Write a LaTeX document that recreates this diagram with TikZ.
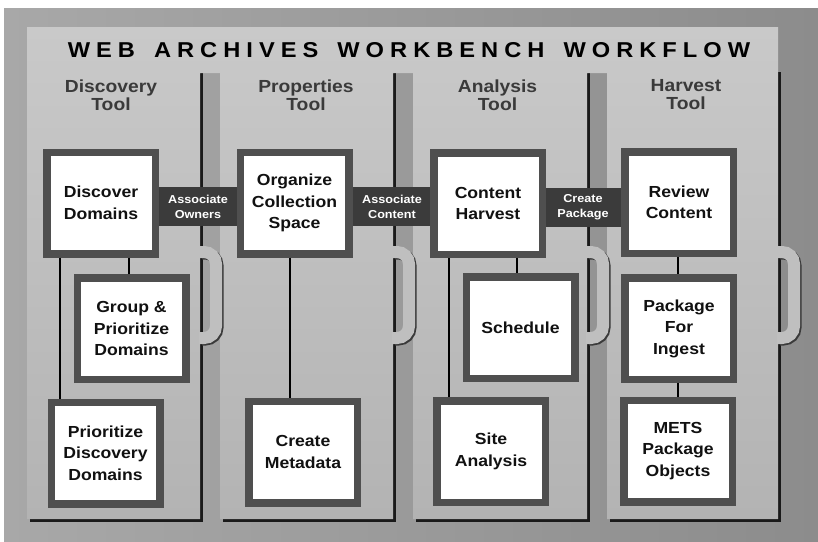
\documentclass[tikz,border=0pt]{standalone}
\usepackage{fontspec}
\setmainfont{Liberation Sans}[FakeStretch=1.1]
\definecolor{bgL}{HTML}{A8A8A8}
\definecolor{bgR}{HTML}{8C8C8C}
\definecolor{panT}{HTML}{C9C9C9}
\definecolor{panB}{HTML}{B3B3B3}
\definecolor{tabC}{HTML}{BFBFBF}
\definecolor{shadC}{HTML}{1A1A1A}
\definecolor{tabS}{HTML}{3A3A3A}
\definecolor{boxB}{HTML}{4F4F4F}
\definecolor{labF}{HTML}{3B3B3B}
\definecolor{headC}{HTML}{3A3A3A}
\definecolor{txtC}{HTML}{111111}
\begin{document}
\begin{tikzpicture}[x=1pt,y=-1pt,
  stepbox/.style={draw=boxB, line width=7.5pt, fill=white, inner sep=0pt,
    minimum width=108.5pt, minimum height=101.5pt, align=center,
    text=txtC, font=\fontsize{16}{21.5}\selectfont\bfseries},
  linkbox/.style={fill=labF, inner sep=0pt, minimum width=78pt,
    minimum height=39pt, align=center, text=white,
    font=\fontsize{11.5}{15}\selectfont\bfseries},
  headtext/.style={align=center, text=headC, inner sep=0pt,
    font=\fontsize{17.5}{18}\selectfont\bfseries},
  conn/.style={draw=black, line width=2.2pt},
  tabband/.style={draw=tabC, line width=12pt, rounded corners=12pt},
  tabshadow/.style={draw=tabS, line width=12pt, rounded corners=12pt}
]
\useasboundingbox (0,0) rectangle (818,541);
\fill[white] (0,0) rectangle (818,541);
\shade[left color=bgL, right color=bgR] (4,8) rectangle (818,541);
% column drop shadows
\fill[shadC] (30,72) rectangle (203,522);
\fill[shadC] (223,72) rectangle (396,522);
\fill[shadC] (416,72) rectangle (590,522);
\fill[shadC] (610,72) rectangle (781,522);
% light panels
\shade[top color=panT, bottom color=panB]
  (27,27) rectangle (778,73)
  (27,70) rectangle (200,519)
  (220,70) rectangle (393,519)
  (413,70) rectangle (587,519)
  (607,70) rectangle (778,519);
% tabs
\foreach \xr in {200,393,587,778}{
  \draw[tabshadow] (\xr+2,253.5) -- (\xr+17.5,253.5) -- (\xr+17.5,339.5) -- (\xr+2,339.5);
  \draw[tabband] (\xr-1,252) -- (\xr+16,252) -- (\xr+16,338) -- (\xr-1,338);
}
% title and headings
\node[inner sep=0pt, text=black, font=\fontsize{21.5}{21.5}\selectfont\bfseries] (title) at (409,50.5)
  {\addfontfeature{LetterSpace=28}WEB\hspace{19pt}ARCHIVES\hspace{19pt}WORKBENCH\hspace{19pt}WORKFLOW};
\node[headtext] (h1) at (111,95) {Discovery\\Tool};
\node[headtext] (h2) at (306,95) {Properties\\Tool};
\node[headtext] (h3) at (497.5,95) {Analysis\\Tool};
\node[headtext] (h4) at (686,95) {Harvest\\Tool};
% connector x positions
\coordinate (xa) at (60,0);
\coordinate (xb) at (129,0);
\coordinate (xc) at (290,0);
\coordinate (xd) at (449,0);
\coordinate (xe) at (517,0);
\coordinate (xf) at (678,0);
% link labels
\node[linkbox] (ao) at (198,206.5) {Associate\\Owners};
\node[linkbox] (ac) at (392,206.5) {Associate\\Content};
\node[linkbox] (cp) at (583,207) {Create\\Package};
% step boxes
\node[stepbox] (dd) at (101,203) {Discover\\Domains};
\node[stepbox] (gp) at (131.5,328.5) {Group \&\\Prioritize\\Domains};
\node[stepbox] (pdd) at (105.5,453) {Prioritize\\Discovery\\Domains};
\node[stepbox] (ocs) at (294.5,203) {Organize\\Collection\\Space};
\node[stepbox] (cm) at (303,452) {Create\\Metadata};
\node[stepbox] (ch) at (488,203.5) {Content\\Harvest};
\node[stepbox] (sch) at (520.5,327.5) {Schedule};
\node[stepbox] (sa) at (491,451.5) {Site\\Analysis};
\node[stepbox] (rc) at (679,202.5) {Review\\Content};
\node[stepbox] (pfi) at (679,328.5) {Package\\For\\Ingest};
\node[stepbox] (mets) at (678,451) {METS\\Package\\Objects};
% connectors
\draw[conn] (dd.south -| xa) -- (pdd.north -| xa);
\draw[conn] (dd.south -| xb) -- (gp.north -| xb);
\draw[conn] (ocs.south -| xc) -- (cm.north -| xc);
\draw[conn] (ch.south -| xd) -- (sa.north -| xd);
\draw[conn] (ch.south -| xe) -- (sch.north -| xe);
\draw[conn] (rc.south -| xf) -- (pfi.north -| xf);
\draw[conn] (pfi.south -| xf) -- (mets.north -| xf);
\end{tikzpicture}
\end{document}
